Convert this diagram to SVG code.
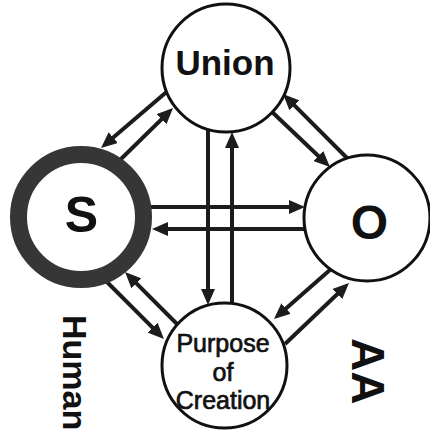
<svg xmlns="http://www.w3.org/2000/svg" width="430" height="433" viewBox="0 0 430 433">
<style>
.node{fill:#fff;stroke:#111;stroke-width:3}
.ring{fill:#fff;stroke:#363636;stroke-width:17}
.conn line{stroke:#1c1c1c;stroke-width:4;fill:none;marker-end:url(#ah)}
text{font-family:"Liberation Sans",Arial,sans-serif;fill:#111;text-anchor:middle}
.b{font-weight:bold}
.m{stroke:#111;stroke-width:0.7}
</style>
<defs>
<marker id="ah" markerUnits="userSpaceOnUse" markerWidth="16" markerHeight="14" viewBox="0 0 16 14" refX="8" refY="7" orient="auto">
<path d="M0,0 L16,7 L0,14 z" fill="#1c1c1c"/>
</marker>
</defs>
<rect width="430" height="433" fill="#fff"/>
<g id="connectors" class="conn">
<line x1="170" y1="89" x2="107.1" y2="142.8"/>
<line x1="120" y1="160" x2="167.3" y2="113.6"/>
<line x1="348" y1="159" x2="288.7" y2="99.7"/>
<line x1="270" y1="110" x2="324.2" y2="161.5"/>
<line x1="150" y1="207" x2="297" y2="207"/>
<line x1="307" y1="229" x2="160" y2="229"/>
<line x1="208" y1="125" x2="208" y2="297"/>
<line x1="232" y1="307" x2="232" y2="140"/>
<line x1="178" y1="325" x2="130.7" y2="277.7"/>
<line x1="106" y1="281" x2="158.3" y2="333.3"/>
<line x1="331" y1="269" x2="280" y2="313.8"/>
<line x1="285" y1="344" x2="343.2" y2="288.5"/>
</g>
<g id="union">
<circle class="node" cx="226" cy="68" r="64"/>
<text class="b" x="225" y="75" font-size="35">Union</text>
</g>
<g id="s">
<circle class="ring" cx="81" cy="217" r="62.5"/>
<text class="b" x="81.5" y="232" font-size="50">S</text>
</g>
<g id="o">
<circle class="node" cx="367" cy="218" r="63"/>
<text class="b" x="369.5" y="239" font-size="48">O</text>
</g>
<g id="purpose">
<circle class="node" cx="224.5" cy="365.5" r="62.5"/>
<text class="m" x="223" y="352" font-size="25">Purpose</text>
<text class="m" x="223" y="381" font-size="25">of</text>
<text class="m" x="223" y="409" font-size="25">Creation</text>
</g>
<g id="human">
<text class="b" font-size="34" style="text-anchor:start" transform="translate(63,315) rotate(90)">Human</text>
</g>
<g id="aa">
<text class="b" font-size="46" style="text-anchor:start" transform="translate(352,338) rotate(90)">AA</text>
</g>
</svg>
